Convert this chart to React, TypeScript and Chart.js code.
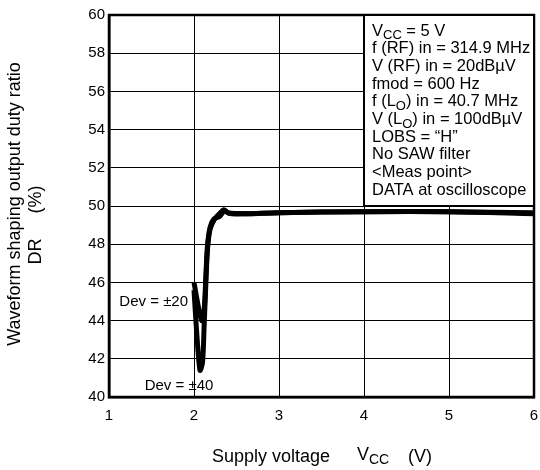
import React, { useEffect, useRef } from "react";
import { Chart, registerables } from "chart.js";
Chart.register(...registerables);

// Supply voltage (V) and duty ratio (%)
const dev20Vcc = [2.0, 2.04, 2.09, 2.12, 2.14, 2.16, 2.19, 2.23, 2.3, 2.36, 2.42, 2.6, 3.0, 4.0, 5.0, 6.0];
const dev20DR = [46.0, 45.0, 44.0, 44.6, 46.4, 48.0, 48.9, 49.3, 49.45, 49.75, 49.6, 49.6, 49.65, 49.7, 49.7, 49.65];
const dev40Vcc = [2.0, 2.03, 2.07, 2.1, 2.12, 2.14, 2.16, 2.19, 2.24, 2.3, 2.35, 2.4, 2.6, 3.0, 4.0, 5.0, 6.0];
const dev40DR = [45.6, 43.5, 41.4, 41.8, 43.8, 46.0, 47.8, 48.8, 49.3, 49.6, 49.8, 49.65, 49.6, 49.65, 49.7, 49.7, 49.6];

const xTicks = [1, 2, 3, 4, 5, 6];
const yTicks = [40, 42, 44, 46, 48, 50, 52, 54, 56, 58, 60];

type Seg = { t: string; sub?: boolean };
const conditionLines: Seg[][] = [
  [{ t: "V" }, { t: "CC", sub: true }, { t: " = 5 V" }],
  [{ t: "f (RF) in = 314.9 MHz" }],
  [{ t: "V (RF) in = 20dBµV" }],
  [{ t: "fmod = 600 Hz" }],
  [{ t: "f (L" }, { t: "O", sub: true }, { t: ") in = 40.7 MHz" }],
  [{ t: "V (L" }, { t: "O", sub: true }, { t: ") in = 100dBµV" }],
  [{ t: "LOBS = \u201CH\u201D" }],
  [{ t: "No SAW filter" }],
  [{ t: "<Meas point>" }],
  [{ t: "DATA at oscilloscope" }],
];

const FONT = "'Liberation Sans', Arial, Helvetica, sans-serif";

function drawSegs(ctx: CanvasRenderingContext2D, segs: Seg[], x: number, y: number, size: number) {
  let cx = x;
  for (const s of segs) {
    const fs = s.sub ? Math.round(size * 0.8) : size;
    ctx.font = `${fs}px ${FONT}`;
    ctx.fillText(s.t, cx, s.sub ? y + size * 0.28 : y);
    cx += ctx.measureText(s.t).width;
  }
}

const overlay = {
  id: "overlay",
  afterDatasetsDraw(chart: any) {
    const { ctx, chartArea: a, scales } = chart;
    const xs = scales.x;
    const ys = scales.y;
    ctx.save();
    // frame
    ctx.strokeStyle = "#000";
    ctx.lineWidth = 2.5;
    ctx.strokeRect(a.left, a.top, a.right - a.left, a.bottom - a.top);
    // conditions box
    const bx = xs.getPixelForValue(4);
    const by = ys.getPixelForValue(60);
    const bw = xs.getPixelForValue(6) - bx;
    const bh = ys.getPixelForValue(50) - by;
    ctx.fillStyle = "#fff";
    ctx.fillRect(bx, by, bw, bh);
    ctx.lineWidth = 2;
    ctx.strokeRect(bx, by, bw, bh);
    ctx.fillStyle = "#000";
    ctx.textBaseline = "middle";
    ctx.textAlign = "left";
    conditionLines.forEach((segs, i) => {
      drawSegs(ctx, segs, bx + 8, by + 16 + i * 17.7, 16.5);
    });
    // dev labels
    ctx.font = `15px ${FONT}`;
    ctx.textAlign = "right";
    ctx.fillText("Dev = \u00B120", xs.getPixelForValue(1.93), ys.getPixelForValue(45));
    ctx.textAlign = "left";
    ctx.fillText("Dev = \u00B140", xs.getPixelForValue(1.42), ys.getPixelForValue(40.6));
    ctx.restore();
  },
  afterDraw(chart: any) {
    const { ctx } = chart;
    ctx.save();
    ctx.fillStyle = "#000";
    ctx.textBaseline = "middle";
    // x title
    ctx.textAlign = "left";
    drawSegs(ctx, [{ t: "Supply voltage" }], 212, 457, 18);
    drawSegs(ctx, [{ t: "V" }, { t: "CC", sub: true }], 357, 455, 18);
    drawSegs(ctx, [{ t: "(V)" }], 408, 457, 18);
    // y title
    ctx.translate(15, 204);
    ctx.rotate(-Math.PI / 2);
    ctx.textAlign = "center";
    ctx.font = `18px ${FONT}`;
    ctx.fillText("Waveform shaping output duty ratio", 0, 0);
    ctx.restore();
    ctx.save();
    ctx.fillStyle = "#000";
    ctx.textBaseline = "middle";
    ctx.translate(36, 225);
    ctx.rotate(-Math.PI / 2);
    ctx.textAlign = "center";
    ctx.font = `18px ${FONT}`;
    ctx.fillText("DR     (%)", 0, 0);
    ctx.restore();
  },
};

export default function App() {
  const ref = useRef<HTMLCanvasElement>(null);
  useEffect(() => {
    document.body.style.margin = "0";
    const canvas = ref.current!;
    const mk = (xs: number[], ys: number[]) => xs.map((x, i) => ({ x, y: ys[i] }));
    const chart = new Chart(canvas, {
      type: "line",
      data: {
        datasets: [
          {
            label: "Dev = ±20",
            data: mk(dev20Vcc, dev20DR),
            borderColor: "#000",
            borderWidth: 5,
            pointRadius: 0,
            tension: 0.3,
            fill: false,
          },
          {
            label: "Dev = ±40",
            data: mk(dev40Vcc, dev40DR),
            borderColor: "#000",
            borderWidth: 5,
            pointRadius: 0,
            tension: 0.3,
            fill: false,
          },
        ],
      },
      options: {
        responsive: false,
        animation: false,
        events: [],
        layout: { padding: { left: 0, top: 15, right: 6, bottom: 0 } },
        plugins: { legend: { display: false }, tooltip: { enabled: false } },
        scales: {
          x: {
            type: "linear",
            min: 1,
            max: 6,
            afterBuildTicks: (s: any) => {
              s.ticks = xTicks.map((v) => ({ value: v }));
            },
            afterFit: (s: any) => {
              s.height = 73;
              s.paddingLeft = 0;
              s.paddingRight = 0;
            },
            grid: { color: "#000", lineWidth: 1, drawTicks: false },
            border: { color: "#000", width: 2.5 },
            ticks: { color: "#000", padding: 10, font: { family: FONT, size: 15 }, maxRotation: 0 },
          },
          y: {
            type: "linear",
            min: 40,
            max: 60,
            afterBuildTicks: (s: any) => {
              s.ticks = yTicks.map((v) => ({ value: v }));
            },
            afterFit: (s: any) => {
              s.width = 109;
              s.paddingTop = 0;
              s.paddingBottom = 0;
            },
            grid: { color: "#000", lineWidth: 1, drawTicks: false },
            border: { color: "#000", width: 2.5 },
            ticks: { color: "#000", padding: 4, font: { family: FONT, size: 15 } },
          },
        },
      },
      plugins: [overlay],
    });
    return () => chart.destroy();
  }, []);
  return <canvas ref={ref} width={540} height={470} style={{ display: "block" }} />;
}
